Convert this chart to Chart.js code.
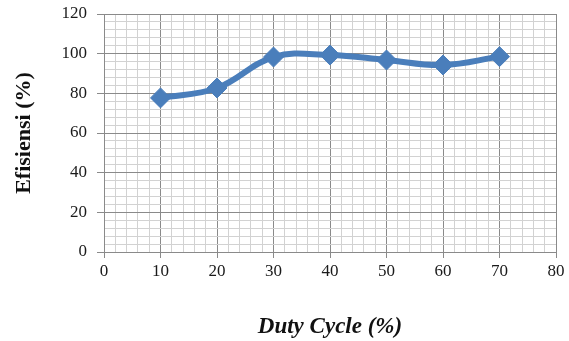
<!DOCTYPE html>
<html>
<head>
<meta charset="utf-8">
<script src="https://cdn.jsdelivr.net/npm/chart.js@4/dist/chart.umd.min.js"></script>
<style>
  html, body { margin: 0; padding: 0; background: #fff; }
  #wrap { width: 569px; height: 341px; }
</style>
</head>
<body>
<div id="wrap"><canvas id="c" width="569" height="341"></canvas></div>
<script>
// Duty cycle (%) against converter efficiency (%)
const dutyCycle = [10, 20, 30, 40, 50, 60, 70];
const efisiensi = [77.7, 82.7, 98.3, 99.3, 96.8, 94.3, 98.5];
const xTickLabels = [0, 10, 20, 30, 40, 50, 60, 70, 80];
const yTickLabels = [0, 20, 40, 60, 80, 100, 120];

const points = dutyCycle.map((x, i) => ({ x: x, y: efisiensi[i] }));

const MAJOR = '#8a8a8a';
const MINOR = '#d2d2d2';
const serif = "'Liberation Serif', 'Times New Roman', serif";

const isXMajor = v => xTickLabels.includes(v);
const isYMajor = v => yTickLabels.includes(v);

new Chart(document.getElementById('c'), {
  type: 'line',
  data: {
    datasets: [{
      data: points,
      borderColor: '#4a7ebb',
      backgroundColor: '#4a7ebb',
      borderWidth: 6,
      tension: 0.4,
      pointStyle: 'rectRot',
      pointRadius: 10,
      pointHoverRadius: 10,
      pointBorderWidth: 1,
      clip: false
    }]
  },
  options: {
    responsive: false,
    animation: false,
    devicePixelRatio: 1,
    layout: { autoPadding: false, padding: { top: 14, right: 13, left: 0, bottom: 0 } },
    plugins: { legend: { display: false }, tooltip: { enabled: false } },
    scales: {
      x: {
        type: 'linear',
        min: 0, max: 80,
        afterFit: s => { s.height = 89; s.paddingLeft = 0; s.paddingRight = 0; },
        ticks: {
          stepSize: 2,
          autoSkip: false,
          maxRotation: 0,
          maxTicksLimit: 200,
          padding: 3,
          color: '#1a1a1a',
          font: { family: serif, size: 17 },
          callback: v => isXMajor(v) ? String(v) : ''
        },
        grid: {
          color: c => isXMajor(c.tick.value) ? MAJOR : MINOR,
          lineWidth: 1,
          tickLength: 6,
          tickColor: c => isXMajor(c.tick.value) ? MAJOR : 'rgba(0,0,0,0)'
        },
        border: { color: MAJOR, width: 1 },
        title: {
          display: true,
          text: 'Duty Cycle (%)',
          color: '#111',
          font: { family: serif, size: 23, weight: 'bold', style: 'italic' },
          padding: { top: 20, bottom: 0 }
        }
      },
      y: {
        type: 'linear',
        min: 0, max: 120,
        afterFit: s => { s.width = 104; s.paddingTop = 0; s.paddingBottom = 0; },
        ticks: {
          stepSize: 4,
          autoSkip: false,
          maxTicksLimit: 200,
          padding: 10,
          color: '#1a1a1a',
          font: { family: serif, size: 17 },
          callback: v => isYMajor(v) ? String(v) : ''
        },
        grid: {
          color: c => isYMajor(c.tick.value) ? MAJOR : MINOR,
          lineWidth: 1,
          tickLength: 7,
          tickColor: c => isYMajor(c.tick.value) ? MAJOR : 'rgba(0,0,0,0)'
        },
        border: { color: MAJOR, width: 1 },
        title: {
          display: true,
          text: 'Efisiensi (%)',
          color: '#111',
          font: { family: serif, size: 22, weight: 'bold' },
          padding: { top: 11, bottom: 0 }
        }
      }
    }
  }
});
</script>
</body>
</html>
